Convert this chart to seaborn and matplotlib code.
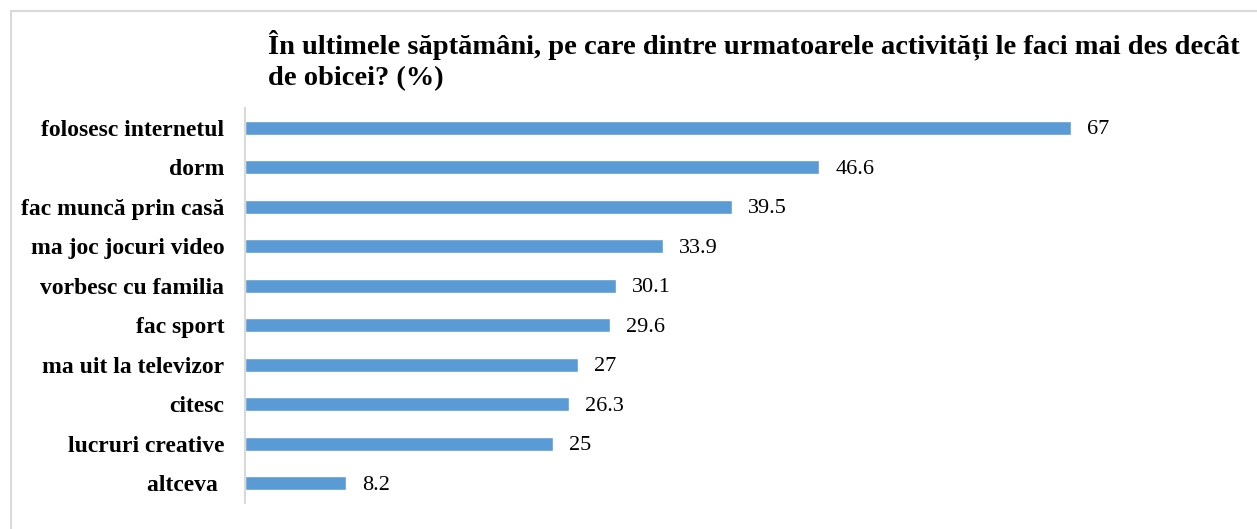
import matplotlib
matplotlib.use("Agg")
import matplotlib.pyplot as plt
from matplotlib.lines import Line2D
import seaborn as sns
import pandas as pd

categories = ["folosesc internetul", "dorm", "fac muncă prin casă", "ma joc jocuri video",
              "vorbesc cu familia", "fac sport", "ma uit la televizor", "citesc",
              "lucruri creative", "altceva "]
values = [67, 46.6, 39.5, 33.9, 30.1, 29.6, 27, 26.3, 25, 8.2]
value_labels = ["67", "46.6", "39.5", "33.9", "30.1", "29.6", "27", "26.3", "25", "8.2"]
title = ("În ultimele săptămâni, pe care dintre urmatoarele activități le faci mai des decât\n"
         "de obicei? (%)")

sns.set_theme(style="white")
plt.rcParams["font.family"] = ["Liberation Serif", "DejaVu Serif"]

df = pd.DataFrame({"cat": categories, "val": values})

fig = plt.figure(figsize=(12.57, 5.29), dpi=100)
ax = fig.add_axes([245/1257, 1-503/529, (1231-245)/1257, (503-108)/529])
sns.barplot(data=df, x="val", y="cat", orient="h", color="#5B9BD5", saturation=1,
            width=0.35, ax=ax)
ax.set_xlim(0, 80)
ax.set_ylim(9.5, -0.5)
ax.set_xlabel("")
ax.set_ylabel("")
ax.set_xticks([])
for s in ["top", "right", "bottom"]:
    ax.spines[s].set_visible(False)
ax.spines["left"].set_color("#D9D9D9")
ax.spines["left"].set_linewidth(1.5)
ax.tick_params(axis="y", length=0, pad=15)
for lbl in ax.get_yticklabels():
    lbl.set_fontweight("bold")
    lbl.set_fontsize(17)
    lbl.set_color("black")
for i, (v, t) in enumerate(zip(values, value_labels)):
    ax.annotate(t, (v, i), xytext=(11.5, -1.5), textcoords="offset points", va="center",
                ha="left", fontsize=16, color="black")

fig.text(268/1257, 1-29/529, title, ha="left", va="top", fontsize=20.5, fontweight="bold",
         color="black", linespacing=1.35)

fig.add_artist(Line2D([10.5/1257, 10.5/1257], [0, 1-10.5/529], color="#D9D9D9", lw=1.5,
                      transform=fig.transFigure))
fig.add_artist(Line2D([10.5/1257, 1], [1-10.5/529, 1-10.5/529], color="#D9D9D9", lw=1.5,
                      transform=fig.transFigure))

fig.savefig("out.png", dpi=100, facecolor="white")
